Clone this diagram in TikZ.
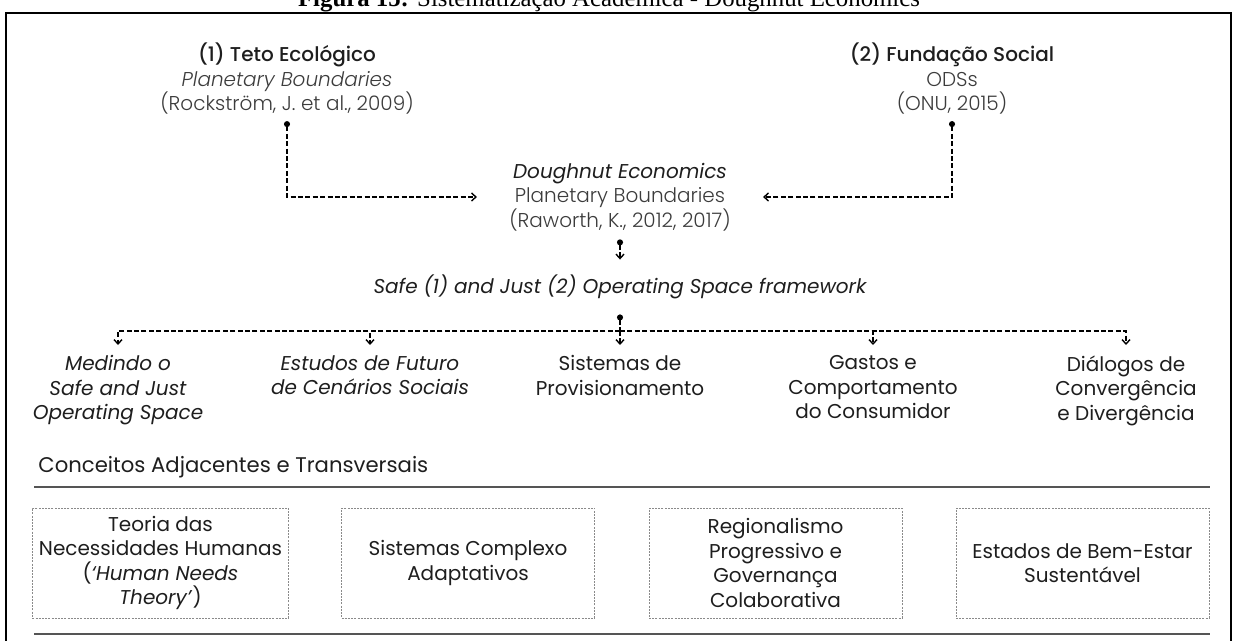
\documentclass[tikz,border=0pt]{standalone}
\usepackage{fontspec}
\setmainfont{Poppins}
\newfontfamily\poplight{Poppins Light}[ItalicFont={Poppins Light Italic}]
\newfontfamily\popmedium{Poppins Medium}
\newfontfamily\titlefont{Liberation Serif}
\usepackage{xcolor}
\usetikzlibrary{positioning,calc,arrows.meta}

\definecolor{ink}{HTML}{1E1E1E}
\definecolor{soft}{HTML}{3C3C3C}
\definecolor{rulegray}{HTML}{555555}
\definecolor{boxgray}{HTML}{8A8A8A}

\tikzset{
  txt/.style={align=center, text=ink, font=\fontsize{10}{12.25}\selectfont},
  itxt/.style={txt, font=\fontsize{10}{12.25}\selectfont\itshape},
  link/.style={line width=0.6pt, dash pattern=on 2.5pt off 1.2pt,
    -{Straight Barb[length=2.2pt,width=4pt,line width=0.7pt]}},
  dotlink/.style={link, {Circle[length=3pt]}-{Straight Barb[length=2.2pt,width=4pt,line width=0.7pt]}},
  dotstart/.style={line width=0.6pt, dash pattern=on 2.5pt off 1.2pt, {Circle[length=3pt]}-},
  concept/.style={txt, draw=boxgray, line width=0.4pt, dash pattern=on 1pt off 0.6pt,
    minimum width=126.5pt, minimum height=55pt},
  sepline/.style={line width=0.8pt, draw=rulegray},
}

\begin{document}
\begin{tikzpicture}[x=0.5pt, y=-0.5pt]
  \useasboundingbox (0,0) rectangle (1235,641);

  % Caption (cut at the top edge) and frame
  \node[anchor=base, inner sep=0, font=\titlefont\fontsize{12.4}{14}\selectfont] (caption) at (609,7)
    {\textbf{Figura 15:} Sistematização Acadêmica - Doughnut Economics};
  \draw[line width=1pt] (6,700) |- (1231,13) -- (1231,700);

  % Sources
  \node[txt, inner ysep=3pt] (teto) at (287,79)
    {{\popmedium (1) Teto Ecológico}\\{\poplight\itshape\color{soft} Planetary Boundaries}\\{\poplight\color{soft}(Rockström, J. et al., 2009)}};
  \node[txt, inner ysep=3pt] (fund) at (952,79)
    {{\popmedium (2) Fundação Social}\\{\poplight\color{soft} ODSs}\\{\poplight\color{soft}(ONU, 2015)}};

  % Doughnut Economics
  \node[txt, inner xsep=16pt, inner ysep=4pt] (dough) at (620,197)
    {\textit{Doughnut Economics}\\{\poplight\color{soft} Planetary Boundaries}\\{\poplight\color{soft}(Raworth, K., 2012, 2017)}};
  \node[itxt, inner ysep=7.5pt] (safe) at (620,287)
    {Safe (1) and Just (2) Operating Space framework};

  \draw[dotlink] (teto.south) |- (dough.west);
  \draw[dotlink] (fund.south) |- (dough.east);
  \draw[dotlink] (dough.south) -- (safe.north);

  % Research lines
  \node[itxt, anchor=north, inner ysep=5pt] (med) at (118,345) {Medindo o\\Safe and Just\\Operating Space};
  \node[itxt, anchor=north, inner ysep=5pt] (fut) at (370,345) {Estudos de Futuro\\de Cenários Sociais};
  \node[txt, anchor=north, inner ysep=5pt] (sis) at (620,345) {Sistemas de\\Provisionamento};
  \node[txt, anchor=north, inner ysep=5pt] (gas) at (873,345) {Gastos e\\Comportamento\\do Consumidor};
  \node[txt, anchor=north, inner ysep=5pt] (dia) at (1126,345) {Diálogos de\\Convergência\\e Divergência};

  \coordinate (split) at (620,331);
  \draw[dotstart] (safe.south) -- (split);
  \foreach \col in {med,fut,gas,dia}
    \draw[link] (split) -| (\col.north);
  \draw[link] (split) -- (sis.north);

  % Adjacent concepts
  \node[anchor=west, inner sep=0, text=ink, font=\fontsize{10.6}{13}\selectfont] (adj) at (38,467)
    {Conceitos Adjacentes e Transversais};
  \draw[sepline] (34,487) -- (1210,487);

  \node[concept] (needs) at (160.5,563) {Teoria das\\Necessidades Humanas\\(\textit{‘Human Needs}\\\textit{Theory’})};
  \node[concept] (cas) at (468,563) {Sistemas Complexo\\Adaptativos};
  \node[concept] (regio) at (775.5,563) {Regionalismo\\Progressivo e\\Governança\\Colaborativa};
  \node[concept] (wellb) at (1082.5,563) {Estados de Bem-Estar\\Sustentável};

  \draw[sepline] (34,634) -- (1210,634);
\end{tikzpicture}
\end{document}
